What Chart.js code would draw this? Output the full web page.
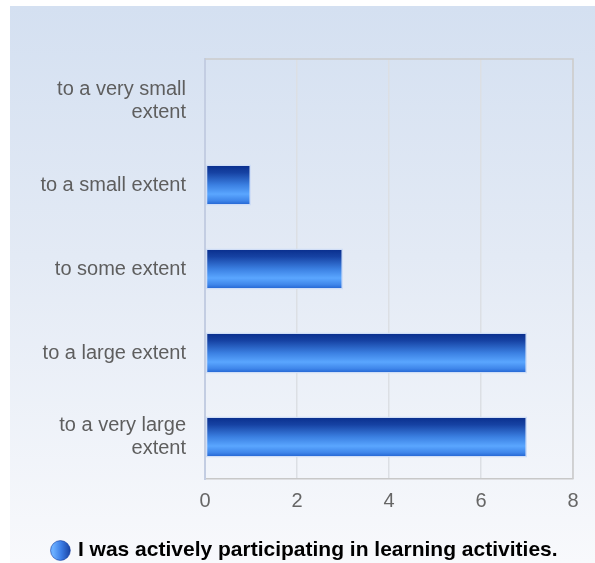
<!DOCTYPE html>
<html>
<head>
<meta charset="utf-8">
<script src="https://cdn.jsdelivr.net/npm/chart.js@4.4.1/dist/chart.umd.min.js"></script>
<style>
	html,body{margin:0;padding:0;background:#fff;overflow:hidden;}
	#fond{position:absolute;left:10px;top:6px;width:585px;height:557px;
		background:linear-gradient(to bottom,#d4e0f1 0%,#e3eaf5 45%,#f8f9fc 100%);}
	#boite{position:absolute;left:0;top:0;width:595px;height:571px;}
</style>
</head>
<body>
<div id="fond"></div>
<div id="boite"><canvas id="graphe"></canvas></div>
<script>
var categories = [
	["to a very small", "extent"],
	"to a small extent",
	"to some extent",
	"to a large extent",
	["to a very large", "extent"]
]
var valeurs = [0, 1, 3, 7, 7]
var ticksX = [0, 2, 4, 6, 8]
var titreSerie = "I was actively participating in learning activities."

var police = "'Liberation Sans', Arial, sans-serif"

// degrade vertical de chaque barre, calcule depuis l'echelle y
function degrade(context){
	var chart = context.chart
	var y = chart.scales.y
	if(!y || !chart.chartArea) return "#2f6fd8"
	var centre = y.getPixelForValue(context.dataIndex)
	var pas = (y.bottom - y.top) / categories.length
	var demi = pas * 0.49 / 2
	var g = chart.ctx.createLinearGradient(0, centre - demi, 0, centre + demi)
	g.addColorStop(0, "#082c8a")
	g.addColorStop(0.2, "#1642a3")
	g.addColorStop(0.5, "#3b80e2")
	g.addColorStop(0.72, "#5aa6ff")
	g.addColorStop(0.88, "#3f86ea")
	g.addColorStop(1, "#1c5ccd")
	return g
}

var cadre = {
	id: "cadre",
	beforeDraw: function(chart){
		// pastille de la legende en degrade horizontal
		var lg = chart.legend
		if(lg && lg.legendHitBoxes && lg.legendHitBoxes[0] && lg.legendItems[0]){
			var hb = lg.legendHitBoxes[0]
			var g = chart.ctx.createLinearGradient(hb.left, 0, hb.left + 20, 0)
			g.addColorStop(0, "#6aaeff")
			g.addColorStop(0.4, "#3a7be4")
			g.addColorStop(1, "#0d2f8c")
			lg.legendItems[0].fillStyle = g
		}
	},
	beforeDatasetsDraw: function(chart){
		var a = chart.chartArea
		var c = chart.ctx
		c.save()
		c.strokeStyle = "#cbcbcb"
		c.lineWidth = 1.5
		c.beginPath()
		c.moveTo(a.left, a.top)
		c.lineTo(a.right, a.top)
		c.lineTo(a.right, a.bottom)
		c.stroke()
		c.restore()
	}
}

new Chart("graphe", {
	type: "bar",
	data: {
		labels: categories,
		datasets: [{
			label: titreSerie,
			data: valeurs,
			backgroundColor: degrade,
			borderColor: "rgba(205,220,245,0.95)",
			borderWidth: 1.5,
			borderSkipped: false,
			barPercentage: 0.49,
			categoryPercentage: 1
		}]
	},
	options: {
		indexAxis: "y",
		responsive: true,
		maintainAspectRatio: false,
		animation: false,
		layout: {padding: {left: 38, right: 22, top: 59, bottom: 0}},
		scales: {
			x: {
				min: 0, max: 8,
				afterBuildTicks: function(s){ s.ticks = ticksX.map(function(v){ return {value: v} }) },
				afterFit: function(s){ s.height = 59 },
				grid: {color: "#dcdfe4", lineWidth: 1.5, drawTicks: false},
				border: {color: "#c8c8c8", width: 1.5},
				ticks: {color: "#666", padding: 10, font: {family: police, size: 20}}
			},
			y: {
				afterFit: function(s){ s.width = 167 },
				grid: {display: false, drawTicks: false},
				border: {color: "#c3cde2", width: 2},
				ticks: {color: "#5e5e5e", padding: 19, font: {family: police, size: 20, lineHeight: 1.15}}
			}
		},
		plugins: {
			legend: {
				position: "bottom",
				labels: {
					usePointStyle: true,
					pointStyle: "circle",
					boxWidth: 14,
					boxHeight: 14,
					color: "#333",
					padding: 2,
					font: {family: police, size: 21, weight: "bold"},
					generateLabels: function(chart){
						return [{text: titreSerie, fillStyle: "#2b66d6", strokeStyle: "rgba(20,60,160,0.6)", lineWidth: 1, pointStyle: "circle", datasetIndex: 0}]
					}
				}
			},
			tooltip: {enabled: false}
		}
	},
	plugins: [cadre]
})
</script>
</body>
</html>
